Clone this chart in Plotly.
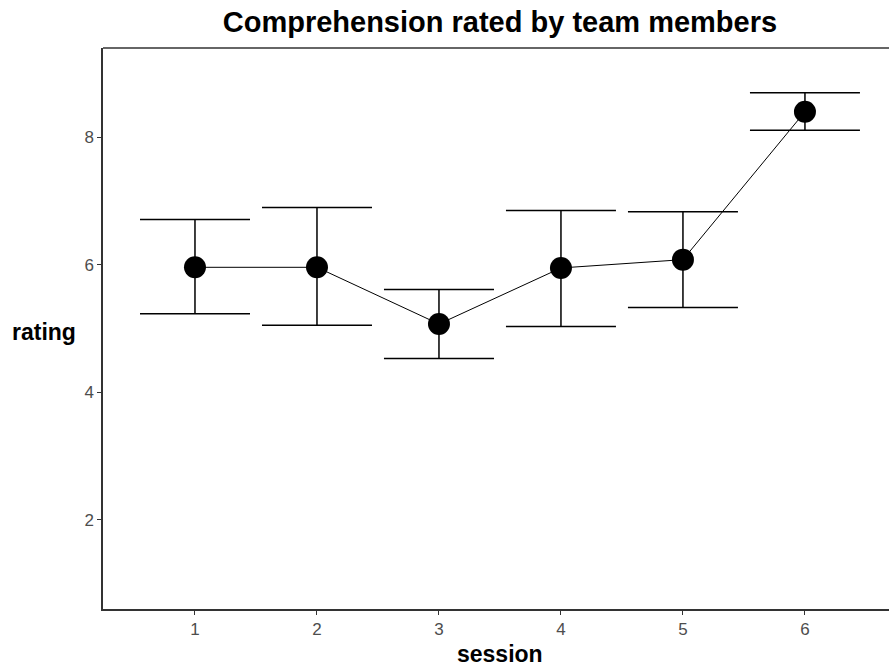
import plotly.graph_objects as go

sessions = [1, 2, 3, 4, 5, 6]
mean_rating = [5.96, 5.96, 5.07, 5.95, 6.08, 8.40]
upper_rating = [6.71, 6.90, 5.61, 6.85, 6.83, 8.70]
lower_rating = [5.23, 5.05, 4.53, 5.03, 5.33, 8.11]
y_ticks = [2, 4, 6, 8]

err_plus = [u - m for u, m in zip(upper_rating, mean_rating)]
err_minus = [m - l for m, l in zip(mean_rating, lower_rating)]

FONT = "Liberation Sans, Arial, sans-serif"

fig = go.Figure()
fig.add_trace(go.Scatter(
    x=sessions, y=mean_rating,
    mode="lines+markers",
    line=dict(color="black", width=1),
    marker=dict(color="black", size=22),
    error_y=dict(type="data", array=err_plus, arrayminus=err_minus,
                 color="black", thickness=1.5, width=55),
    showlegend=False,
))

fig.update_layout(
    width=889, height=669,
    margin=dict(l=103, r=0, t=48, b=60),
    paper_bgcolor="white", plot_bgcolor="white",
    title=dict(text="<b>Comprehension rated by team members</b>",
               x=0.505, xref="paper", xanchor="center",
               y=0.967, yref="container", yanchor="middle",
               font=dict(family=FONT, size=29, color="black")),
    xaxis=dict(range=[0.246, 6.689], tickvals=sessions,
               showgrid=False, zeroline=False,
               showline=True, linecolor="#333333", linewidth=1.5,
               ticks="outside", ticklen=4, tickcolor="#333333", tickwidth=1.2,
               tickfont=dict(family=FONT, size=17, color="#4d4d4d")),
    yaxis=dict(range=[0.6, 9.4], tickvals=y_ticks,
               showgrid=False, zeroline=False,
               showline=True, linecolor="#333333", linewidth=1.5,
               ticks="outside", ticklen=4, tickcolor="#333333", tickwidth=1.2,
               tickfont=dict(family=FONT, size=17, color="#4d4d4d")),
    shapes=[dict(type="line", xref="paper", yref="paper",
                 x0=0, x1=1, y0=1, y1=1,
                 line=dict(color="#333333", width=1.5))],
    annotations=[
        dict(text="<b>rating</b>", xref="paper", yref="paper",
             x=-0.118, y=0.494, xanchor="left", yanchor="middle",
             showarrow=False, font=dict(family=FONT, size=23, color="black")),
        dict(text="<b>session</b>", xref="paper", yref="paper",
             x=0.505, y=-0.08, xanchor="center", yanchor="middle",
             showarrow=False, font=dict(family=FONT, size=23, color="black")),
    ],
)

fig.write_html(
    "out.html",
    config={"displayModeBar": False},
    post_script="document.body.style.margin='0';document.body.style.overflow='hidden';",
)
